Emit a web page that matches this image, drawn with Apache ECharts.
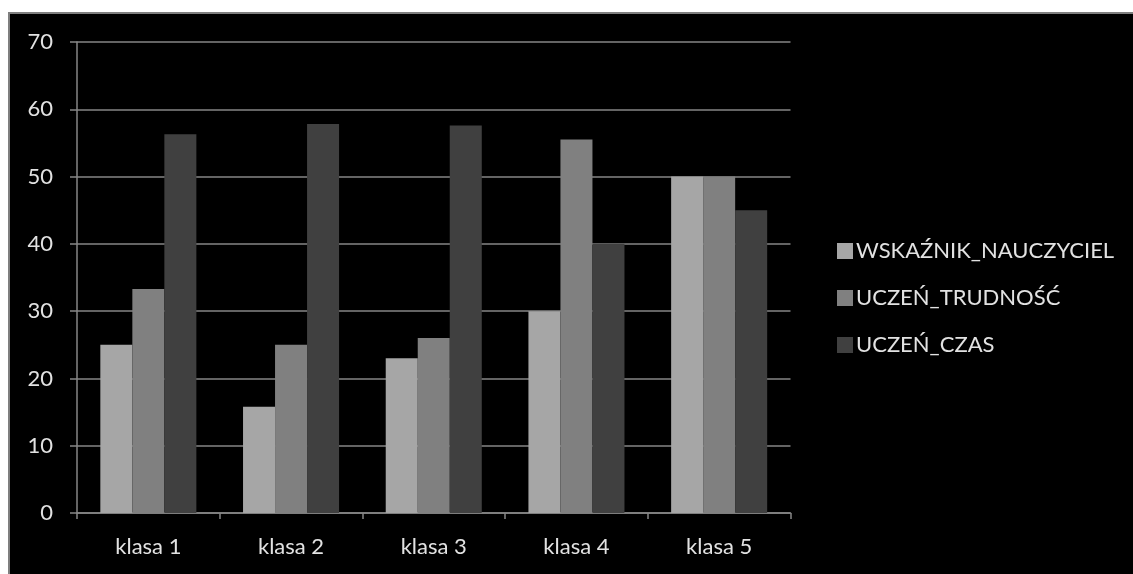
<!DOCTYPE html>
<html>
<head>
<meta charset="utf-8">
<script src="https://cdn.jsdelivr.net/npm/echarts@6/dist/echarts.min.js"></script>
<style>
html,body{margin:0;padding:0;background:#ffffff;width:1133px;height:574px;overflow:hidden;}
#frame{position:absolute;left:8px;top:12px;right:0;bottom:0;background:#000;border-top:2px solid #7f7f7f;border-left:2px solid #7f7f7f;}
#chart{position:absolute;left:0;top:0;width:1133px;height:574px;}
</style>
</head>
<body>
<div id="frame"></div>
<div id="chart"></div>
<script>
var categories = ['klasa 1', 'klasa 2', 'klasa 3', 'klasa 4', 'klasa 5'];
var seriesNames = ['WSKAŹNIK_NAUCZYCIEL', 'UCZEŃ_TRUDNOŚĆ', 'UCZEŃ_CZAS'];
var wskaznikNauczyciel = [25, 15.8, 23, 30, 50];
var uczenTrudnosc = [33.3, 25, 26, 55.5, 50];
var uczenCzas = [56.3, 57.8, 57.6, 40, 45];
var yTicks = [0, 10, 20, 30, 40, 50, 60, 70];

var colors = ['#a6a6a6', '#808080', '#404040'];
var chart = echarts.init(document.getElementById('chart'), null, {renderer: 'canvas'});
var font = 'Lato, "Noto Sans", sans-serif';
chart.setOption({
  backgroundColor: 'transparent',
  animation: false,
  color: colors,
  grid: {left: 77, right: 342.5, top: 42, bottom: 61, containLabel: false},
  legend: {
    orient: 'vertical',
    left: 832,
    top: 235,
    itemWidth: 16,
    itemHeight: 16,
    itemGap: 25,
    icon: 'rect',
    textStyle: {color: '#e2e2e2', fontSize: 22, fontFamily: font, lineHeight: 22, padding: [0, 0, 0, -2]},
    data: seriesNames
  },
  xAxis: {
    type: 'category',
    data: categories,
    axisLine: {lineStyle: {color: '#868686', width: 1.5}},
    axisTick: {show: true, length: 6, lineStyle: {color: '#868686', width: 1.5}},
    axisLabel: {color: '#e2e2e2', fontSize: 22, fontFamily: font, margin: 23}
  },
  yAxis: {
    type: 'value',
    min: yTicks[0],
    max: yTicks[yTicks.length - 1],
    interval: 10,
    axisLine: {show: true, lineStyle: {color: '#868686', width: 1.5}},
    axisTick: {show: true, length: 7, lineStyle: {color: '#868686', width: 1.5}},
    splitLine: {lineStyle: {color: '#868686', width: 1.5}},
    axisLabel: {color: '#e2e2e2', fontSize: 22, fontFamily: font, margin: 24}
  },
  series: [
    {name: seriesNames[0], type: 'bar', data: wskaznikNauczyciel, barGap: '0%', barCategoryGap: '32.7%'},
    {name: seriesNames[1], type: 'bar', data: uczenTrudnosc, barGap: '0%', barCategoryGap: '32.7%'},
    {name: seriesNames[2], type: 'bar', data: uczenCzas, barGap: '0%', barCategoryGap: '32.7%'}
  ]
});
</script>
</body>
</html>
